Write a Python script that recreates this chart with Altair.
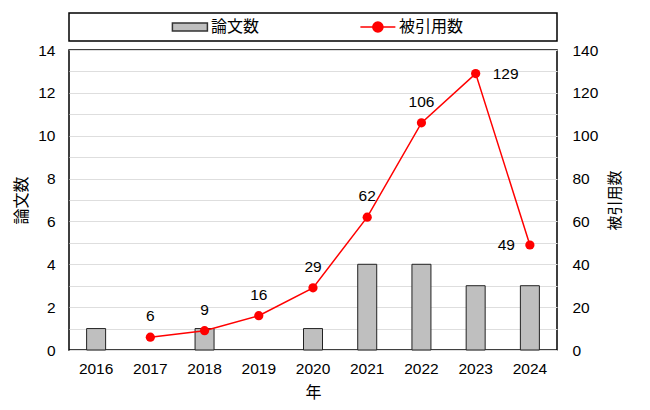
import altair as alt
import pandas as pd

years = ["2016", "2017", "2018", "2019", "2020", "2021", "2022", "2023", "2024"]
papers = [1, 0, 1, 0, 1, 4, 4, 3, 3]
cite_years = ["2017", "2018", "2019", "2020", "2021", "2022", "2023", "2024"]
citations = [6, 9, 16, 29, 62, 106, 129, 49]
legend_items = ["論文数", "被引用数"]
left_ticks = list(range(0, 15))
right_ticks = list(range(0, 141, 20))

paper_df = pd.DataFrame({"year": years, "papers": papers})
cite_df = pd.DataFrame({"year": cite_years, "citations": citations})
legend_df = pd.DataFrame({"item": legend_items})

NUM_FONT = "Liberation Sans"
JP_FONT = "Noto Sans CJK JP"
RED = "#ff0000"
GRAY = "#bfbfbf"
FS = 15.5
JFS = 16

x_enc = alt.X(
    "year:O",
    scale=alt.Scale(type="band", domain=years, paddingInner=0, paddingOuter=0),
    axis=alt.Axis(
        title="年", labelAngle=0, labelFont=NUM_FONT, labelFontSize=FS,
        labelColor="black", labelPadding=11, ticks=False, domain=False,
        grid=False, titleFont=JP_FONT, titleFontSize=JFS, titleFontWeight="normal",
        titleColor="black", titlePadding=8,
    ),
)

y_papers = alt.Y(
    "papers:Q",
    scale=alt.Scale(domain=[0, 14], nice=False),
    axis=alt.Axis(
        title="論文数", values=left_ticks,
        labelExpr="datum.value % 2 === 0 ? datum.label : ''",
        grid=True, gridColor="#dedede", gridWidth=1, ticks=False, domain=False,
        labelFont=NUM_FONT, labelFontSize=FS, labelColor="black", labelPadding=14,
        titleFont=JP_FONT, titleFontSize=JFS, titleFontWeight="normal",
        titleColor="black", titlePadding=8,
    ),
)

y_cite = alt.Y(
    "citations:Q",
    scale=alt.Scale(domain=[0, 140], nice=False),
    axis=alt.Axis(
        orient="right", title="被引用数", values=right_ticks, grid=False,
        ticks=False, domain=False, labelFont=NUM_FONT, labelFontSize=FS,
        labelColor="black", labelPadding=15, titleAngle=270, titleBaseline="top",
        titleFont=JP_FONT, titleFontSize=15, titleFontWeight="normal",
        titleColor="black", titlePadding=10,
    ),
)

bars = alt.Chart(paper_df).transform_filter("datum.papers > 0").mark_bar(
    size=19, fill=GRAY, stroke="#222222", strokeWidth=1
).encode(x=x_enc, y=y_papers)

line = alt.Chart(cite_df).mark_line(color=RED, strokeWidth=1.5).encode(x=x_enc, y=y_cite)
pts = alt.Chart(cite_df).mark_point(filled=True, color=RED, size=85, opacity=1).encode(x=x_enc, y=y_cite)

above = alt.Chart(cite_df).transform_filter(
    alt.FieldOneOfPredicate(field="year", oneOf=cite_years[:-2])
).mark_text(dy=-21, fontSize=FS, font=NUM_FONT, color="black").encode(
    x=x_enc, y=y_cite, text="citations:Q"
)
right_lbl = alt.Chart(cite_df).transform_filter(
    alt.FieldEqualPredicate(field="year", equal=cite_years[-2])
).mark_text(align="left", dx=17, fontSize=FS, font=NUM_FONT, color="black").encode(
    x=x_enc, y=y_cite, text="citations:Q"
)
left_lbl = alt.Chart(cite_df).transform_filter(
    alt.FieldEqualPredicate(field="year", equal=cite_years[-1])
).mark_text(align="right", dx=-15, fontSize=FS, font=NUM_FONT, color="black").encode(
    x=x_enc, y=y_cite, text="citations:Q"
)

cites = alt.layer(line, pts, above, right_lbl, left_lbl)
main = alt.layer(bars, cites).resolve_scale(y="independent").properties(width=488, height=300)

# legend panel
RECT_PATH = "M-1,-0.23H1V0.23H-1Z"
LINE_PATH = "M-1,0H1M0.29,0A0.29,0.29 0 1,1 -0.29,0A0.29,0.29 0 1,1 0.29,0Z"
legend_x = alt.X(
    "item:N",
    scale=alt.Scale(type="point", domain=legend_items, padding=0.798, align=0.403),
    axis=None,
)
sym = alt.Chart(legend_df).mark_point(filled=True, size=1225, strokeWidth=1.5, opacity=1).encode(
    x=legend_x,
    shape=alt.Shape("item:N", scale=alt.Scale(domain=legend_items, range=[RECT_PATH, LINE_PATH]), legend=None),
    fill=alt.Fill("item:N", scale=alt.Scale(domain=legend_items, range=[GRAY, RED]), legend=None),
    stroke=alt.Stroke("item:N", scale=alt.Scale(domain=legend_items, range=["#333333", RED]), legend=None),
)
lbl = alt.Chart(legend_df).mark_text(
    align="left", baseline="middle", dx=21, fontSize=JFS, font=JP_FONT, color="black"
).encode(x=legend_x, text="item:N")
legend_panel = alt.layer(sym, lbl).properties(width=488, height=28)

chart = alt.vconcat(legend_panel, main, spacing=9, bounds="flush").properties(
    padding={"left": 5, "top": 4, "right": 5, "bottom": 5}
).configure_view(stroke="black", strokeWidth=1.5)

chart.save("out.html", embed_options={"renderer": "svg", "actions": False})
